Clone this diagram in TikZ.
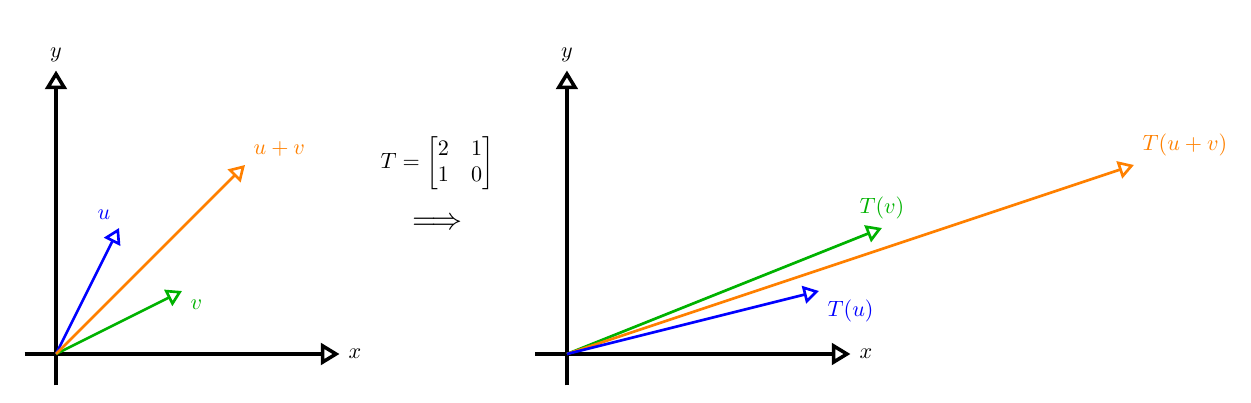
\documentclass[tikz,border=0pt]{standalone}
\usepackage{amsmath, amsfonts}
\usetikzlibrary{arrows.meta}
\begin{document}
\begin{tikzpicture}[axis/.style={ultra thick, -{Triangle[open, scale=1.15]}}, vec/.style={very thick, -{Triangle[open, scale=1.15]}}]
            \useasboundingbox (-0.889,-0.762) rectangle (18.968,5.619);
            % left plane
            \coordinate (O1) at (0,0);
            \coordinate (xa) at (-0.5,0);
            \coordinate (ya) at (0,-0.5);
            \coordinate (u) at (1,2);
            \coordinate (v) at (2,1);
            \coordinate (uv) at (3,3);
            \draw[axis] (xa) -- (4.5,0) node[right] (xl) {$x$};
            \draw[axis] (ya) -- (0,4.5) node[above] (yl) {$y$};
            \draw[vec, blue] (O1) -- (u) node[above left] (ul) {$u$};
            \draw[vec, green!70!black] (O1) -- (v) node[below right] (vl) {$v$};
            \draw[vec, orange] (O1) -- (uv) node[above right] (uvl) {$u+v$};

            \node[inner sep=1pt] (T) at (6.05,3.03) {$T=\begin{bmatrix}2 & 1\\ 1 & 0\end{bmatrix}$};
            \node[scale=1.4, inner sep=0pt] (imp) at (6.05,2.06) {$\Longrightarrow$};

            % right plane
            \coordinate (O2) at (8.11,0);
            \coordinate (xb) at (7.61,0);
            \coordinate (yb) at (8.11,-0.5);
            \coordinate (Tu) at (12.11,1);
            \coordinate (Tv) at (13.11,2);
            \coordinate (Tuv) at (17.11,3);
            \draw[axis] (xb) -- (12.61,0) node[right] (xr) {$x$};
            \draw[axis] (yb) -- (8.11,4.5) node[above] (yr) {$y$};
            \draw[vec, green!70!black] (O2) -- (Tv) node[above] (Tvl) {$T(v)$};
            \draw[vec, orange] (O2) -- (Tuv) node[above right] (Tuvl) {$T(u+v)$};
            \draw[vec, blue] (O2) -- (Tu) node[below right] (Tul) {$T(u)$};
        \end{tikzpicture}
\end{document}
